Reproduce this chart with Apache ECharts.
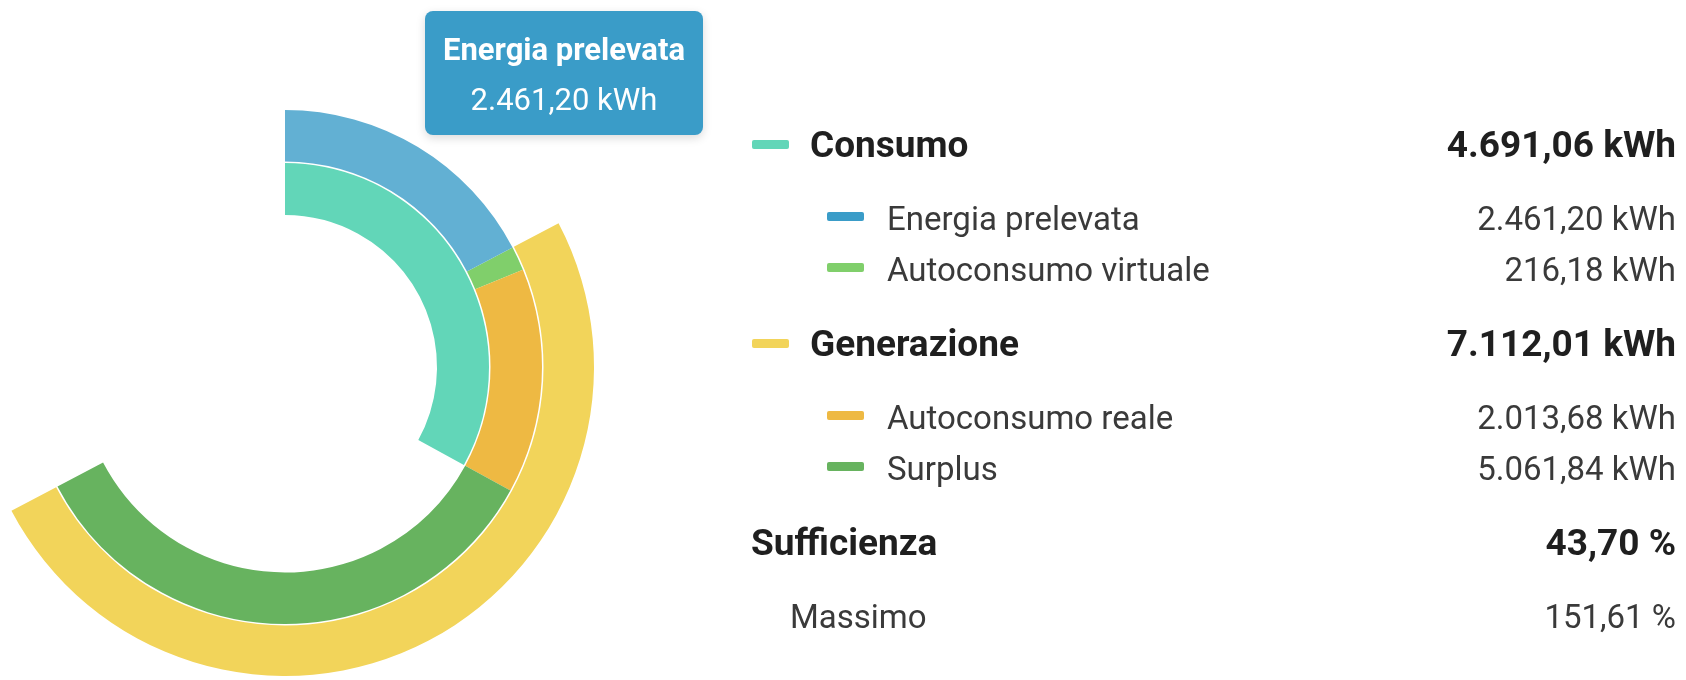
<!DOCTYPE html>
<html lang="it">
<head>
  <meta charset="UTF-8">
  <title>bilancio-energia</title>
  <script src="https://cdn.jsdelivr.net/npm/echarts@6/dist/echarts.min.js"></script>
  <style>
    html, body {
      margin: 0;
      padding: 0;
      width: 1686px;
      height: 680px;
      overflow: hidden;
      background: #fff;
      font-family: Roboto, 'Noto Sans', sans-serif;
    }

    #chart-main {
      position: absolute;
      left: 0;
      top: 0;
      width: 1686px;
      height: 680px;
    }

    #legend {
      position: absolute;
      left: 0;
      top: 0;
      width: 1686px;
      height: 680px;
      pointer-events: none;
    }

    .row {
      position: absolute;
      left: 0;
      right: 10px;
      white-space: nowrap;
      line-height: 1;
    }

    .row .label, .row .mark {
      position: absolute;
    }

    .row .value {
      position: absolute;
      right: 0;
    }

    .row.main {
      font-size: 37px;
      font-weight: 700;
      color: #1f1f1f;
    }

    .row.sub {
      font-size: 33px;
      color: #3a3a3a;
    }

    .mark {
      width: 37px;
      height: 9px;
      border-radius: 2px;
    }
  </style>
</head>
<body>
<div id="chart-main"></div>
<div id="legend"></div>

<script type="text/javascript">
  // dati
  const groupNames = ['Consumo', 'Generazione']
  const groupValues = [4691.06, 7112.01]
  const detailNames = ['Energia prelevata', 'Autoconsumo virtuale', 'Autoconsumo reale', 'Surplus']
  const detailValues = [2461.20, 216.18, 2013.68, 5061.84]
  const ratioNames = ['Sufficienza', 'Massimo']
  const ratioValues = [43.70, 151.61]

  const colors = {
    consumo: '#62d6b8',
    generazione: '#f2d45a',
    prelevata: '#3a9cc8',
    virtuale: '#80cf6b',
    reale: '#eeb943',
    surplus: '#67b35f'
  }

  function fmt(v) {
    let parts = v.toFixed(2).split('.')
    parts[0] = parts[0].replace(/\B(?=(\d{3})+(?!\d))/g, '.')
    return parts.join(',')
  }

  // mezzo giro = generazione
  const fullTurn = groupValues[1] * 2

  function filler(v) {
    return {
      value: v,
      name: '',
      itemStyle: {color: 'rgba(0,0,0,0)'},
      emphasis: {disabled: true},
      tooltip: {show: false}
    }
  }

  // l'anello di dettaglio chiude la generazione: surplus = generazione - autoconsumi
  const surplusArc = groupValues[1] - detailValues[1] - detailValues[2]
  const detailColors = [colors.prelevata, colors.virtuale, colors.reale, colors.surplus]
  const detailArcs = [detailValues[0], detailValues[1], detailValues[2], surplusArc]
  const detailData = detailNames.map(function (name, i) {
    let item = {name: name, value: detailArcs[i], kwh: detailValues[i], itemStyle: {color: detailColors[i]}}
    if (i === 0) item.emphasis = {itemStyle: {color: '#62b0d3'}}
    return item
  })
  detailData.push(filler(fullTurn - detailArcs.reduce((a, b) => a + b, 0)))

  let base = {
    type: 'pie',
    center: [285, 367],
    clockwise: true,
    animation: false,
    label: {show: false},
    labelLine: {show: false},
    emphasis: {scale: false},
    itemStyle: {borderWidth: 0}
  }

  let echartItem = echarts.init(document.getElementById('chart-main'))

  let option = {
    tooltip: {
      trigger: 'item',
      triggerOn: 'none',
      alwaysShowContent: true,
      transitionDuration: 0,
      backgroundColor: colors.prelevata,
      borderWidth: 0,
      padding: [14, 0, 10, 0],
      textStyle: {color: '#fff', fontFamily: 'Roboto', fontSize: 31},
      extraCssText: 'width:278px;height:124px;box-sizing:border-box;text-align:center;border-radius:8px;box-shadow:0 3px 10px rgba(0,0,0,0.15);',
      position: function () {
        return [425, 11]
      },
      formatter: function (params) {
        let v = params.data.kwh !== undefined ? params.data.kwh : params.value
        return '<div style="font-weight:bold;font-size:31px;line-height:50px;color:#fff">' + params.name + '</div>' +
          '<div style="font-size:31px;line-height:50px;color:#fff">' + fmt(v) + ' kWh</div>'
      }
    },
    series: [
      Object.assign({}, base, {
        name: 'consumo',
        radius: [152, 204],
        startAngle: 90,
        data: [
          {name: groupNames[0], value: groupValues[0], itemStyle: {color: colors.consumo}},
          filler(fullTurn - groupValues[0])
        ]
      }),
      Object.assign({}, base, {
        name: 'dettaglio',
        radius: [205.5, 257],
        startAngle: 90,
        data: detailData
      }),
      Object.assign({}, base, {
        name: 'generazione',
        radius: [258.5, 309],
        startAngle: 90 - detailValues[0] / fullTurn * 360,
        data: [
          {name: groupNames[1], value: groupValues[1], itemStyle: {color: colors.generazione}},
          filler(fullTurn - groupValues[1])
        ]
      })
    ]
  }

  echartItem.setOption(option)
  echartItem.dispatchAction({type: 'highlight', seriesIndex: 1, dataIndex: 0})
  echartItem.dispatchAction({type: 'showTip', seriesIndex: 1, dataIndex: 0})

  // legenda a destra
  const rows = [
    {cls: 'main', label: groupNames[0], value: fmt(groupValues[0]) + ' kWh', color: colors.consumo, markX: 752, textX: 810, y: 157},
    {cls: 'sub', label: detailNames[0], value: fmt(detailValues[0]) + ' kWh', color: colors.prelevata, markX: 827, textX: 887, y: 229.5},
    {cls: 'sub', label: detailNames[1], value: fmt(detailValues[1]) + ' kWh', color: colors.virtuale, markX: 827, textX: 887, y: 280.5},
    {cls: 'main', label: groupNames[1], value: fmt(groupValues[1]) + ' kWh', color: colors.generazione, markX: 752, textX: 810, y: 356},
    {cls: 'sub', label: detailNames[2], value: fmt(detailValues[2]) + ' kWh', color: colors.reale, markX: 827, textX: 887, y: 428.5},
    {cls: 'sub', label: detailNames[3], value: fmt(detailValues[3]) + ' kWh', color: colors.surplus, markX: 827, textX: 887, y: 479.5},
    {cls: 'main', label: ratioNames[0], value: fmt(ratioValues[0]) + ' %', color: null, textX: 751, y: 555},
    {cls: 'sub', label: ratioNames[1], value: fmt(ratioValues[1]) + ' %', color: null, textX: 790, y: 627.5}
  ]

  let legend = document.getElementById('legend')
  rows.forEach(function (r) {
    let size = r.cls === 'main' ? 37 : 33
    let top = r.y - 0.8415 * size
    let row = document.createElement('div')
    row.className = 'row ' + r.cls
    row.style.top = top + 'px'
    row.style.height = size + 'px'
    let html = ''
    if (r.color) {
      html += '<span class="mark" style="left:' + r.markX + 'px;top:' + (r.y - 17 - top) + 'px;background:' + r.color + '"></span>'
    }
    html += '<span class="label" style="left:' + r.textX + 'px">' + r.label + '</span>'
    html += '<span class="value">' + r.value + '</span>'
    row.innerHTML = html
    legend.appendChild(row)
  })
</script>
</body>
</html>
